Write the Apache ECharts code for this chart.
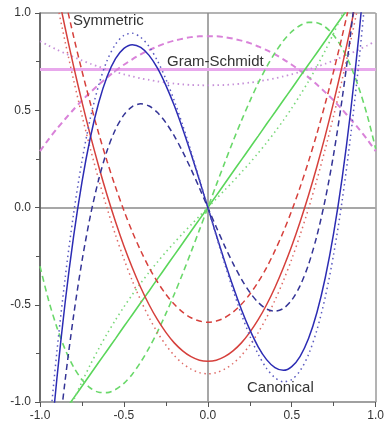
<!DOCTYPE html>
<html>
<head>
<meta charset="utf-8">
<script src="https://cdn.jsdelivr.net/npm/echarts@6/dist/echarts.min.js"></script>
<style>
  html, body { margin: 0; padding: 0; background: #fff; }
  #main { width: 387px; height: 426px; }
</style>
</head>
<body>
<div id="main"></div>
<script>
// x positions, step 0.05
const xs = [-1, -0.95, -0.9, -0.85, -0.8, -0.75, -0.7, -0.65, -0.6, -0.55, -0.5, -0.45, -0.4, -0.35, -0.3, -0.25, -0.2, -0.15, -0.1, -0.05,
  0, 0.05, 0.1, 0.15, 0.2, 0.25, 0.3, 0.35, 0.4, 0.45, 0.5, 0.55, 0.6, 0.65, 0.7, 0.75, 0.8, 0.85, 0.9, 0.95, 1];
const tickLabels = ['-1.0', '-0.5', '0.0', '0.5', '1.0'];

// magenta (degree 0)
const magentaGS  = [0.71, 0.71, 0.71, 0.71, 0.71, 0.71, 0.71, 0.71, 0.71, 0.71, 0.71, 0.71, 0.71, 0.71, 0.71, 0.71, 0.71, 0.71, 0.71, 0.71,
  0.71, 0.71, 0.71, 0.71, 0.71, 0.71, 0.71, 0.71, 0.71, 0.71, 0.71, 0.71, 0.71, 0.71, 0.71, 0.71, 0.71, 0.71, 0.71, 0.71, 0.71];
const magentaSym = [0.29, 0.349, 0.404, 0.455, 0.504, 0.55, 0.592, 0.632, 0.669, 0.703, 0.734, 0.762, 0.787, 0.809, 0.828, 0.845, 0.858, 0.868, 0.876, 0.88,
  0.88, 0.88, 0.876, 0.868, 0.858, 0.845, 0.828, 0.809, 0.787, 0.762, 0.734, 0.703, 0.669, 0.632, 0.592, 0.55, 0.504, 0.455, 0.404, 0.349, 0.29];
const magentaCan = [0.855, 0.833, 0.812, 0.792, 0.774, 0.756, 0.739, 0.724, 0.71, 0.697, 0.685, 0.674, 0.664, 0.656, 0.648, 0.642, 0.637, 0.633, 0.63, 0.629,
  0.628, 0.629, 0.63, 0.633, 0.637, 0.642, 0.648, 0.656, 0.664, 0.674, 0.685, 0.697, 0.71, 0.724, 0.739, 0.756, 0.774, 0.792, 0.812, 0.833, 0.855];

// green (degree 1)
const greenGS  = [-1.225, -1.163, -1.102, -1.041, -0.98, -0.919, -0.857, -0.796, -0.735, -0.674, -0.612, -0.551, -0.49, -0.429, -0.367, -0.306, -0.245, -0.184, -0.122, -0.061,
  0, 0.061, 0.122, 0.184, 0.245, 0.306, 0.367, 0.429, 0.49, 0.551, 0.612, 0.674, 0.735, 0.796, 0.857, 0.919, 0.98, 1.041, 1.102, 1.163, 1.225];
const greenSym = [-0.302, -0.473, -0.615, -0.73, -0.82, -0.885, -0.928, -0.95, -0.952, -0.936, -0.904, -0.857, -0.795, -0.722, -0.639, -0.546, -0.446, -0.34, -0.229, -0.115,
  0, 0.115, 0.229, 0.34, 0.446, 0.546, 0.639, 0.722, 0.795, 0.857, 0.904, 0.936, 0.952, 0.95, 0.928, 0.885, 0.82, 0.73, 0.615, 0.473, 0.302];
const greenCan = [-1.439, -1.316, -1.2, -1.092, -0.991, -0.897, -0.808, -0.726, -0.649, -0.578, -0.511, -0.448, -0.389, -0.333, -0.28, -0.229, -0.181, -0.134, -0.089, -0.044,
  0, 0.044, 0.089, 0.134, 0.181, 0.229, 0.28, 0.333, 0.389, 0.448, 0.511, 0.578, 0.649, 0.726, 0.808, 0.897, 0.991, 1.092, 1.2, 1.316, 1.439];

// red (degree 2)
const redGS  = [1.581, 1.35, 1.13, 0.923, 0.727, 0.543, 0.371, 0.211, 0.063, -0.073, -0.198, -0.31, -0.411, -0.5, -0.577, -0.642, -0.696, -0.737, -0.767, -0.785,
  -0.79, -0.785, -0.767, -0.737, -0.696, -0.642, -0.577, -0.5, -0.411, -0.31, -0.198, -0.073, 0.063, 0.211, 0.371, 0.543, 0.727, 0.923, 1.13, 1.35, 1.581];
const redSym = [1.707, 1.483, 1.271, 1.07, 0.88, 0.702, 0.536, 0.38, 0.237, 0.105, -0.016, -0.125, -0.222, -0.309, -0.383, -0.446, -0.498, -0.538, -0.567, -0.584,
  -0.59, -0.584, -0.567, -0.538, -0.498, -0.446, -0.383, -0.309, -0.222, -0.125, -0.016, 0.105, 0.237, 0.38, 0.536, 0.702, 0.88, 1.07, 1.271, 1.483, 1.707];
const redCan = [1.506, 1.276, 1.057, 0.851, 0.656, 0.473, 0.302, 0.143, -0.005, -0.141, -0.265, -0.377, -0.477, -0.566, -0.643, -0.707, -0.761, -0.802, -0.831, -0.849,
  -0.855, -0.849, -0.831, -0.802, -0.761, -0.707, -0.643, -0.566, -0.477, -0.377, -0.265, -0.141, -0.005, 0.143, 0.302, 0.473, 0.656, 0.851, 1.057, 1.276, 1.506];

// blue (degree 3)
const blueGS  = [-1.871, -1.344, -0.885, -0.487, -0.15, 0.131, 0.36, 0.54, 0.674, 0.765, 0.818, 0.837, 0.823, 0.782, 0.716, 0.628, 0.524, 0.405, 0.276, 0.14,
  0, -0.14, -0.276, -0.405, -0.524, -0.628, -0.716, -0.782, -0.823, -0.837, -0.818, -0.765, -0.674, -0.54, -0.36, -0.131, 0.15, 0.487, 0.885, 1.344, 1.871];
const blueSym = [-2.216, -1.714, -1.272, -0.887, -0.557, -0.276, -0.043, 0.145, 0.293, 0.402, 0.476, 0.519, 0.533, 0.522, 0.488, 0.436, 0.368, 0.287, 0.197, 0.1,
  0, -0.1, -0.197, -0.287, -0.368, -0.436, -0.488, -0.522, -0.533, -0.519, -0.476, -0.402, -0.293, -0.145, 0.043, 0.276, 0.557, 0.887, 1.272, 1.714, 2.216];
const blueCan = [-1.713, -1.197, -0.747, -0.361, -0.033, 0.239, 0.459, 0.63, 0.756, 0.839, 0.885, 0.896, 0.875, 0.827, 0.754, 0.66, 0.549, 0.424, 0.288, 0.146,
  0, -0.146, -0.288, -0.424, -0.549, -0.66, -0.754, -0.827, -0.875, -0.896, -0.885, -0.839, -0.756, -0.63, -0.459, -0.239, 0.033, 0.361, 0.747, 1.197, 1.713];

const DASH = [6, 4];
const DOT = [1.5, 3.5];

function curve(ys, color, type, width) {
  return {
    type: 'line',
    data: xs.map((x, i) => [x, ys[i]]),
    smooth: 0.3,
    showSymbol: false,
    clip: true,
    lineStyle: { color: color, type: type, width: width }
  };
}

let myChart = echarts.init(document.getElementById('main'));

// gray lines only at -1, 0, 1
const gridColors = ['#9a9a9a', 'rgba(0,0,0,0)', '#8a8a8a', 'rgba(0,0,0,0)', '#9a9a9a'];

let option = {
  animation: false,
  backgroundColor: '#fff',
  grid: { left: 40, right: 9, top: 13, bottom: 24 },
  xAxis: {
    type: 'value', min: -1, max: 1, interval: 0.5,
    axisLine: { onZero: false, lineStyle: { color: '#9a9a9a', width: 1.5 } },
    axisTick: { length: 5, lineStyle: { color: '#555' } },
    minorTick: { show: true, splitNumber: 2, length: 4, lineStyle: { color: '#555' } },
    splitLine: { show: true, lineStyle: { color: gridColors, width: 1.5 } },
    axisLabel: {
      color: '#333', fontSize: 12, fontFamily: 'Liberation Sans', margin: 8,
      formatter: v => tickLabels[Math.round((v + 1) / 0.5)]
    }
  },
  yAxis: {
    type: 'value', min: -1, max: 1, interval: 0.5,
    axisLine: { show: true, onZero: false, lineStyle: { color: '#555', width: 1.5 } },
    axisTick: { show: true, length: 5, lineStyle: { color: '#555' } },
    minorTick: { show: true, splitNumber: 2, length: 4, lineStyle: { color: '#555' } },
    splitLine: { show: true, lineStyle: { color: gridColors, width: 1.5 } },
    axisLabel: {
      color: '#333', fontSize: 12, fontFamily: 'Liberation Sans', margin: 9,
      formatter: v => tickLabels[Math.round((v + 1) / 0.5)]
    }
  },
  graphic: [
    { type: 'text', left: 73, top: 13, z: 100, style: { text: 'Symmetric', fill: '#333', font: '15px "Liberation Sans"' } },
    { type: 'text', left: 167, top: 54, z: 100, style: { text: 'Gram-Schmidt', fill: '#333', font: '15px "Liberation Sans"' } },
    { type: 'text', left: 247, top: 380, z: 100, style: { text: 'Canonical', fill: '#333', font: '15px "Liberation Sans"' } }
  ],
  series: [
    curve(magentaGS, '#e8a8ec', 'solid', 3),
    curve(magentaSym, '#d982d9', DASH, 2),
    curve(magentaCan, '#c690d8', DOT, 1.8),
    curve(greenGS, '#5ad65a', 'solid', 1.6),
    curve(greenSym, '#6ad86a', DASH, 1.6),
    curve(greenCan, '#7ad87a', DOT, 1.6),
    curve(redGS, '#d6403c', 'solid', 1.5),
    curve(redSym, '#d6403c', DASH, 1.5),
    curve(redCan, '#de6a66', DOT, 1.5),
    curve(blueGS, '#2c2cb4', 'solid', 1.5),
    curve(blueSym, '#343496', DASH, 1.5),
    curve(blueCan, '#5a5ac0', DOT, 1.5)
  ]
};

myChart.setOption(option);
</script>
</body>
</html>
